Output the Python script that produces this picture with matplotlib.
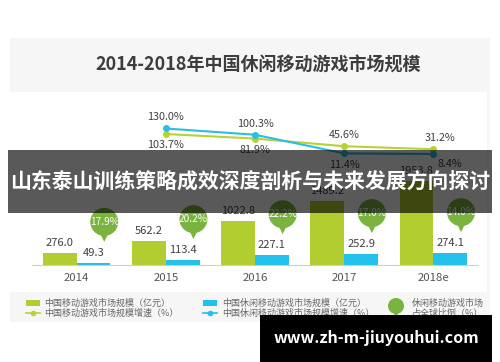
import numpy as np
import matplotlib.pyplot as plt
from matplotlib.patches import Rectangle, Circle, Polygon

plt.rcParams['font.family'] = ['Noto Sans CJK SC', 'DejaVu Sans']

# data
years = ['2014', '2015', '2016', '2017', '2018e']
mobile_size = [276.0, 562.2, 1022.8, 1489.2, 1953.8]
casual_size = [49.3, 113.4, 227.1, 252.9, 274.1]
# growth rates start at 2015
mobile_growth = [103.7, 81.9, 45.6, 31.2]
casual_growth = [130.0, 100.3, 11.4, 8.4]
global_share = [17.9, 20.2, 22.2, 17.0, 14.0]

GREEN = '#b1cd2f'
CYAN = '#22c1ec'
BUBBLE = '#7bb33f'
LGREEN = '#b6d236'
LCYAN = '#2bbde6'
TXT = '#404040'

W, H = 500, 362
fig = plt.figure(figsize=(5, 3.62), dpi=100)


def box(x0, y0, w, h):
    # pixel box (top-left origin) -> figure fraction
    return [x0 / W, 1 - (y0 + h) / H, w / W, h / H]


# background
bg = fig.add_axes([0, 0, 1, 1], zorder=0)
bg.set_xlim(0, W)
bg.set_ylim(H, 0)
bg.axis('off')
bg.add_patch(Rectangle((10, 38), 480, 284, color='#f6f6f6', lw=0))
bg.add_patch(Rectangle((10, 92), 477, 200, color='white', lw=0))
bg.text(258, 65, '2014-2018年中国休闲移动游戏市场规模', ha='center', va='center',
        fontsize=13, fontweight='bold', color='#3d3d3d')

# bars
ax = fig.add_axes(box(32, 100, 446, 165), zorder=1)
ax.patch.set_alpha(0)
x = np.arange(len(years))
bw = 0.38
ax.bar(x - bw / 2, mobile_size, bw, color=GREEN)
ax.bar(x + bw / 2, casual_size, bw, color=CYAN)
ax.set_xlim(-0.5, 4.5)
ax.set_ylim(0, 165 / 0.043)
for s in ['top', 'right', 'left']:
    ax.spines[s].set_visible(False)
ax.spines['bottom'].set_color('#cfcfcf')
ax.set_yticks([])
ax.set_xticks(x, years)
ax.tick_params(axis='x', length=0, pad=6, labelsize=8.2, labelcolor='#555555')
for i in range(len(years)):
    ax.annotate(f'{mobile_size[i]:.1f}', (x[i] - bw / 2, mobile_size[i]), xytext=(0, 5),
                textcoords='offset points', ha='center', va='baseline', fontsize=8, color=TXT)
    ax.annotate(f'{casual_size[i]:.1f}', (x[i] + bw / 2, casual_size[i]), xytext=(0, 5),
                textcoords='offset points', ha='center', va='baseline', fontsize=8, color=TXT)

# growth lines
ax2 = fig.add_axes(box(32, 100, 446, 165), zorder=2)
ax2.patch.set_alpha(0)
ax2.axis('off')
ax2.set_xlim(-0.5, 4.5)
ax2.set_ylim(-520, 265.7)
xg = x[1:]
ax2.plot(xg, mobile_growth, color=LGREEN, lw=1.5, marker='o', ms=4)
ax2.plot(xg, casual_growth, color=LCYAN, lw=1.5, marker='o', ms=4)
for j in range(len(xg)):
    hi, lo = max(mobile_growth[j], casual_growth[j]), min(mobile_growth[j], casual_growth[j])
    dx = 5 if j == len(xg) - 1 else 0
    ax2.annotate(f'{hi:.1f}%', (xg[j], hi), xytext=(dx, 8), textcoords='offset points',
                 ha='center', va='center', fontsize=7.8, color=TXT)
    if j == len(xg) - 1:
        ax2.annotate(f'{lo:.1f}%', (xg[j], lo), xytext=(12, -7), textcoords='offset points',
                     ha='center', va='center', fontsize=7.8, color=TXT,
                     arrowprops=dict(arrowstyle='-', color='#888888', lw=0.6,
                                     connectionstyle='angle,angleA=0,angleB=90,rad=0',
                                     shrinkA=6, shrinkB=0))
    else:
        ax2.annotate(f'{lo:.1f}%', (xg[j], lo), xytext=(0, -8), textcoords='offset points',
                     ha='center', va='center', fontsize=7.8, color=TXT)

# foreground layer: bubbles, legend, overlays
fg = fig.add_axes([0, 0, 1, 1], zorder=3)
fg.set_xlim(0, W)
fg.set_ylim(H, 0)
fg.axis('off')


def bubble(cx, cy, r, tail, **kw):
    fg.add_patch(Circle((cx, cy), r, color=BUBBLE, lw=0, **kw))
    fg.add_patch(Polygon([(cx - r * 0.35, cy + r * 0.7), (cx + r * 0.35, cy + r * 0.7),
                          (cx, cy + tail)], closed=True, color=BUBBLE, lw=0, **kw))


for i in range(len(years)):
    xd, yd = ax.transData.transform((x[i] + bw / 2 + 0.12, casual_size[i]))
    cx, cy = xd, H - yd - 41
    bubble(cx, cy, 14, 20)
    fg.text(cx, cy, f'{global_share[i]:.1f}%', ha='center', va='center',
            fontsize=7.3, color='white')

# legend
lfs = 6.5
lc = '#666666'
fg.add_patch(Rectangle((26, 300), 14, 6, color=GREEN, lw=0))
fg.text(44, 303, '中国移动游戏市场规模（亿元）', va='center', fontsize=lfs, color=lc)
fg.plot([26, 40], [313, 313], color=LGREEN, lw=1.2)
fg.plot([33], [313], 'o', color=LGREEN, ms=3)
fg.text(44, 313, '中国移动游戏市场规模增速（%）', va='center', fontsize=lfs, color=lc)
fg.add_patch(Rectangle((203, 300), 14, 6, color=CYAN, lw=0))
fg.text(222, 303, '中国休闲移动游戏市场规模（亿元）', va='center', fontsize=lfs, color=lc)
fg.plot([203, 217], [313, 313], color=LCYAN, lw=1.2)
fg.plot([210], [313], 'o', color=LCYAN, ms=3)
fg.text(222, 313, '中国休闲移动游戏市场规模增速（%）', va='center', fontsize=lfs, color=lc)
bubble(396, 306, 8, 12)
fg.text(412, 308, '休闲移动游戏市场\n占全球比例（%）', va='center', fontsize=lfs,
        color=lc, linespacing=1.1)

# overlay banner
fg.add_patch(Rectangle((8, 150), 484, 63, color='black', alpha=0.65, lw=0, zorder=10))
fg.text(250, 181.5, '山东泰山训练策略成效深度剖析与未来发展方向探讨', ha='center', va='center',
        fontsize=15, fontweight='bold', color='white', zorder=11)

# watermark
fg.add_patch(Rectangle((260, 315), 232, 47, color='black', lw=0, zorder=10))
fg.text(376, 338, 'www.zh-m-jiuyouhui.com', ha='center', va='center',
        fontsize=11.5, fontweight='bold', color='white', zorder=11)

fig.savefig('out.png', dpi=100)
